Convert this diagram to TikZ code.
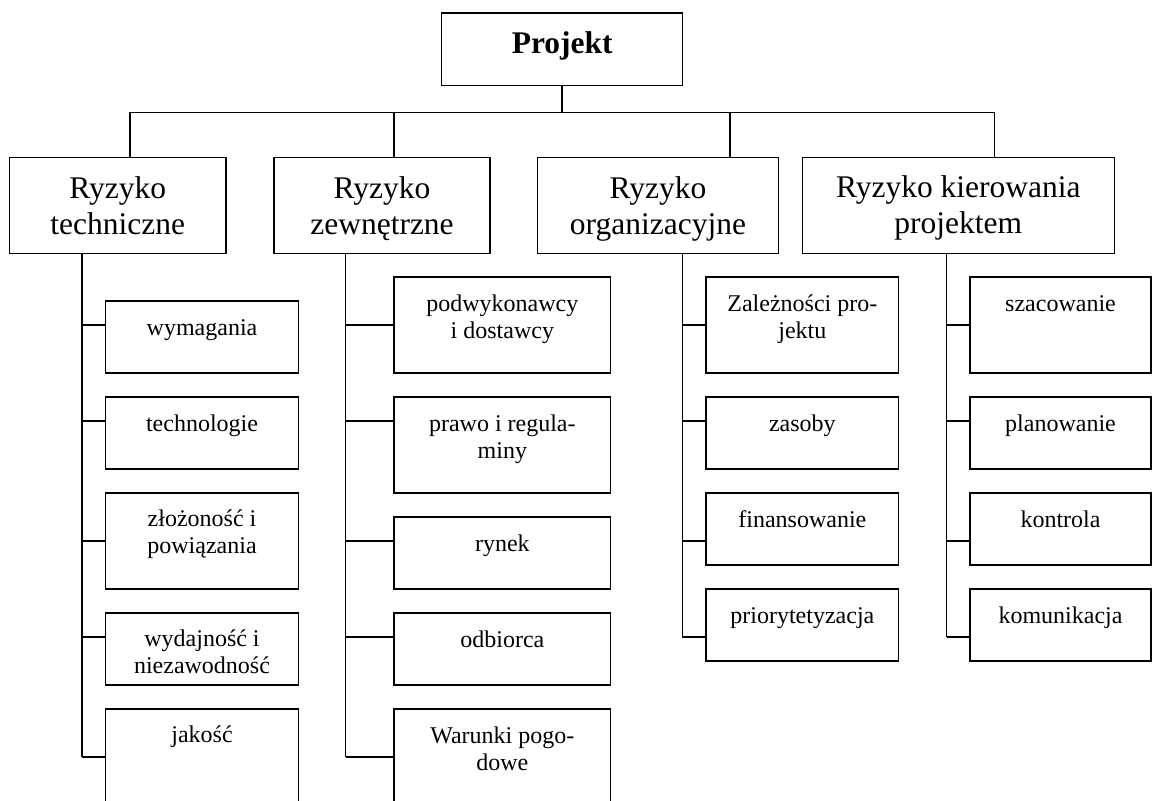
\documentclass[tikz,border=0pt]{standalone}
\usepackage{fontspec}
\setmainfont{Liberation Serif}
\tikzset{
  frame/.style={draw, line width=1.5pt, inner sep=0pt, outer sep=0pt, rectangle},
  wire/.style={line width=1.5pt},
  txt/.style={inner sep=0pt, outer sep=0pt, anchor=base},
}
\newcommand\smallfnt{\fontsize{24}{27}\selectfont}
\newcommand\bigfnt{\fontsize{31.5}{36}\selectfont}
\newcommand\projfnt{\fontsize{31.5}{36}\selectfont\bfseries}
% name, x1, y1, x2, y2, font, offset, text
\newcommand\mkbox[8]{%
  \node[frame, minimum width={#4-#2}, minimum height={#5-#3}] (#1) at ({(#2+#4)/2},{(#3+#5)/2}) {};
  \node[txt] (#1t) at ({(#2+#4)/2},{#3+#7}) {\parbox[t]{330pt}{\centering#6 #8}};
}
\begin{document}
\begin{tikzpicture}[x=1pt,y=-1pt]
\useasboundingbox (0,0) rectangle (1153,800);
\clip (0,0) rectangle (1153,800);

% root
\mkbox{proj}{441.7}{13}{682.7}{85.3}{\projfnt}{40}{Projekt}

% level 1
\mkbox{tech}{9.5}{157.3}{226}{253.3}{\bigfnt}{41}{Ryzyko\\techniczne}
\mkbox{zewn}{274}{157.3}{490}{253.3}{\bigfnt}{41}{Ryzyko\\zewnętrzne}
\mkbox{orga}{537.7}{157.3}{778.3}{253.3}{\bigfnt}{41}{Ryzyko\\organizacyjne}
\mkbox{kier}{802.3}{157.3}{1114.3}{253.3}{\bigfnt}{40.5}{Ryzyko kierowania\\projektem}

% column 1
\mkbox{wym}{105.7}{301}{298.3}{373}{\smallfnt}{34}{wymagania}
\mkbox{techn}{105.7}{397}{298.3}{469}{\smallfnt}{34}{technologie}
\mkbox{zloz}{105.7}{493}{298.3}{589}{\smallfnt}{33}{złożoność i\\powiązania}
\mkbox{wyd}{105.7}{613}{298.3}{685}{\smallfnt}{33}{wydajność i\\niezawodność}
\mkbox{jak}{105.7}{709}{298.3}{812}{\smallfnt}{33.5}{jakość}

% column 2
\mkbox{podw}{394}{277}{610.7}{373}{\smallfnt}{34.5}{podwykonawcy\\i dostawcy}
\mkbox{praw}{394}{397}{610.7}{493}{\smallfnt}{34}{prawo i regula-\\miny}
\mkbox{ryn}{394}{517}{610.7}{589}{\smallfnt}{34}{rynek}
\mkbox{odb}{394}{613}{610.7}{685}{\smallfnt}{34}{odbiorca}
\mkbox{war}{394}{709}{610.7}{812}{\smallfnt}{34}{Warunki pogo-\\dowe}

% column 3
\mkbox{zal}{706}{277}{898.7}{373}{\smallfnt}{34.5}{Zależności pro-\\jektu}
\mkbox{zas}{706}{397}{898.7}{469}{\smallfnt}{34.5}{zasoby}
\mkbox{fin}{706}{493}{898.7}{565}{\smallfnt}{34}{finansowanie}
\mkbox{prio}{706}{589}{898.7}{661}{\smallfnt}{34}{priorytetyzacja}

% column 4
\mkbox{szac}{970}{277}{1151}{373}{\smallfnt}{34.5}{szacowanie}
\mkbox{plan}{970}{397}{1151}{469}{\smallfnt}{34.5}{planowanie}
\mkbox{kont}{970}{493}{1151}{565}{\smallfnt}{34}{kontrola}
\mkbox{komu}{970}{589}{1151}{661}{\smallfnt}{34}{komunikacja}

% top connectors
\coordinate (v1) at (130,112.3);
\coordinate (v2) at (394,112.3);
\coordinate (v3) at (730,112.3);
\coordinate (v4) at (994.3,112.3);
\draw[wire] (v1) -- (v4);
\draw[wire] (proj.south) -- (proj.south |- v1);
\draw[wire] (v1) -- (v1 |- tech.north);
\draw[wire] (v2) -- (v2 |- zewn.north);
\draw[wire] (v3) -- (v3 |- orga.north);
\draw[wire] (v4) -- (v4 |- kier.north);

% rows
\coordinate (r1) at (0,325);
\coordinate (r2) at (0,421);
\coordinate (r3) at (0,541);
\coordinate (r4) at (0,637);
\coordinate (r5) at (0,757);
\coordinate (c1) at (82,0);
\coordinate (c2) at (345.7,0);
\coordinate (c3) at (682.3,0);
\coordinate (c4) at (946.7,0);

\draw[wire] (tech.south -| c1) -- (c1 |- r5);
\draw[wire] (c1 |- r1) -- (wym.west |- r1);
\draw[wire] (c1 |- r2) -- (techn.west |- r2);
\draw[wire] (c1 |- r3) -- (zloz.west |- r3);
\draw[wire] (c1 |- r4) -- (wyd.west |- r4);
\draw[wire] (c1 |- r5) -- (jak.west |- r5);

\draw[wire] (zewn.south -| c2) -- (c2 |- r5);
\draw[wire] (c2 |- r1) -- (podw.west |- r1);
\draw[wire] (c2 |- r2) -- (praw.west |- r2);
\draw[wire] (c2 |- r3) -- (ryn.west |- r3);
\draw[wire] (c2 |- r4) -- (odb.west |- r4);
\draw[wire] (c2 |- r5) -- (war.west |- r5);

\draw[wire] (orga.south -| c3) -- (c3 |- r4);
\draw[wire] (c3 |- r1) -- (zal.west |- r1);
\draw[wire] (c3 |- r2) -- (zas.west |- r2);
\draw[wire] (c3 |- r3) -- (fin.west |- r3);
\draw[wire] (c3 |- r4) -- (prio.west |- r4);

\draw[wire] (kier.south -| c4) -- (c4 |- r4);
\draw[wire] (c4 |- r1) -- (szac.west |- r1);
\draw[wire] (c4 |- r2) -- (plan.west |- r2);
\draw[wire] (c4 |- r3) -- (kont.west |- r3);
\draw[wire] (c4 |- r4) -- (komu.west |- r4);
\end{tikzpicture}
\end{document}
